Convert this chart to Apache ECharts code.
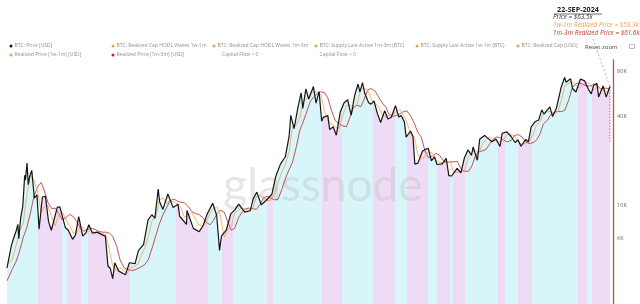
<!DOCTYPE html>
<html>
<head>
<meta charset="utf-8">
<script src="https://cdn.jsdelivr.net/npm/echarts@6/dist/echarts.min.js"></script>
<style>html,body{margin:0;padding:0;background:#fff}#c{width:640px;height:304px}</style>
</head>
<body>
<div id="c"></div>
<script>
// ---- DATA ----
const priceUsd = [
['2017-09-23',3780],['2017-10-01',4400],['2017-10-12',5400],['2017-10-21',6000],['2017-11-01',6750],['2017-11-08',7450],['2017-11-12',5950],['2017-11-20',8250],['2017-11-29',9900],['2017-12-07',16000],['2017-12-10',14800],['2017-12-17',19300],['2017-12-22',13800],['2017-12-28',15700],
['2018-01-06',17200],['2018-01-17',11200],['2018-01-28',11800],['2018-02-06',6900],['2018-02-20',11400],['2018-03-05',11500],['2018-03-18',7800],['2018-03-30',6800],['2018-04-06',6600],['2018-04-24',9700],['2018-05-05',9800],['2018-05-28',7100],['2018-06-10',6800],['2018-06-28',5900],['2018-07-10',6300],['2018-07-24',8400],['2018-08-10',6200],['2018-08-23',6500],['2018-09-05',7400],['2018-09-20',6500],['2018-10-10',6600],['2018-10-30',6350],['2018-11-14',6200],['2018-11-25',3900],['2018-12-05',3750],['2018-12-15',3200],['2018-12-24',4100],
['2019-01-10',3600],['2019-02-07',3400],['2019-02-24',4100],['2019-03-20',4050],['2019-04-03',4950],['2019-04-25',5450],['2019-05-14',8000],['2019-05-30',8650],['2019-06-12',8200],['2019-06-26',12900],['2019-07-02',10600],['2019-07-16',9400],['2019-08-06',11950],['2019-08-28',9700],['2019-09-18',10200],['2019-09-25',8450],['2019-10-24',7450],['2019-10-26',9250],['2019-11-22',7000],['2019-12-17',6650],
['2020-01-03',7350],['2020-01-19',8700],['2020-02-12',10350],['2020-02-29',8550],['2020-03-12',4970],['2020-03-20',6200],['2020-04-10',6850],['2020-04-29',8800],['2020-05-15',9300],['2020-06-01',10200],['2020-06-27',9000],['2020-07-20',9200],['2020-08-02',11100],['2020-08-17',12300],['2020-09-05',10100],['2020-09-24',10750],['2020-10-20',11900],['2020-11-05',15600],['2020-11-25',19000],['2020-12-01',18800],['2020-12-16',21300],
['2021-01-01',29400],['2021-01-08',40600],['2021-01-22',33000],['2021-02-08',46400],['2021-02-21',57500],['2021-02-28',45200],['2021-03-13',61200],['2021-03-25',52300],['2021-04-14',63500],['2021-04-25',49000],['2021-05-08',58800],['2021-05-19',37000],['2021-05-26',39300],['2021-06-14',40500],['2021-06-22',32500],['2021-07-07',34000],['2021-07-20',29800],['2021-08-06',42800],['2021-08-22',49300],['2021-09-06',51700],['2021-09-21',40700],['2021-10-06',55300],['2021-10-20',66000],['2021-10-28',58400],['2021-11-08',67500],['2021-11-18',56900],['2021-12-04',49300],['2021-12-14',48300],['2021-12-27',50700],
['2022-01-10',41800],['2022-01-24',36300],['2022-02-10',43600],['2022-02-24',38300],['2022-03-10',39400],['2022-03-28',47100],['2022-04-11',39500],['2022-04-21',40500],['2022-05-05',36500],['2022-05-12',28900],['2022-05-31',31800],['2022-06-10',29100],['2022-06-18',19000],['2022-07-01',19300],['2022-07-20',23200],['2022-07-30',23800],['2022-08-14',24300],['2022-08-27',20000],['2022-09-09',21300],['2022-09-20',18900],['2022-10-12',19100],['2022-10-29',20800],['2022-11-09',15900],['2022-11-21',15800],['2022-12-14',17800],['2022-12-30',16600],
['2023-01-14',20900],['2023-01-29',23700],['2023-02-13',21800],['2023-02-20',24800],['2023-03-10',20200],['2023-03-20',28000],['2023-04-10',29700],['2023-04-19',28800],['2023-05-11',26900],['2023-05-28',28100],['2023-06-14',25000],['2023-06-23',30700],['2023-07-13',31400],['2023-07-30',29300],['2023-08-17',26600],['2023-08-29',27700],['2023-09-11',25100],['2023-10-01',27900],['2023-10-12',26800],['2023-10-24',33900],['2023-11-09',36700],['2023-11-25',37700],['2023-12-08',44200],['2023-12-17',41400],
['2024-01-01',44200],['2024-01-11',46300],['2024-01-23',39800],['2024-02-08',45300],['2024-02-28',62500],['2024-03-05',63800],['2024-03-14',73100],['2024-03-20',67900],['2024-04-08',71600],['2024-04-17',61300],['2024-05-01',58300],['2024-05-20',71400],['2024-06-07',69300],['2024-06-24',60300],['2024-07-05',56700],['2024-07-15',64800],['2024-07-29',66800],['2024-08-05',54000],['2024-08-24',64100],['2024-09-06',53900],['2024-09-15',59200],['2024-09-22',63500]
];

// semi-monthly dates for the realized price series
const rpDates = ['2017-09-23'];
for (let y = 2017; y <= 2024; y++) {
  for (let m = (y === 2017 ? 10 : 1); m <= (y === 2024 ? 9 : 12); m++) {
    const mm = (m < 10 ? '0' : '') + m;
    rpDates.push(y + '-' + mm + '-01', y + '-' + mm + '-15');
  }
}
rpDates.push('2024-09-22');

const realized1w1m = [
4000,3900,4300,5400,6700,7600,11500,
16000,14800,12000,9000,9800,10000,8300,7300,8600,9000,8000,7300,6500,6500,7200,7000,6600,6800,6500,6600,6450,6400,5000,3900,
3600,3800,3600,3500,3800,3850,4000,4600,5200,6200,8000,8200,10800,11300,10300,10800,10500,10300,9600,8300,8600,9000,8100,7400,
7300,7600,8900,9600,9700,8600,6100,6800,7200,8900,9300,9600,9400,9300,9600,11400,11700,11200,10800,10800,12100,14300,16800,18700,
23000,34000,35000,38500,50000,52000,57000,58500,58000,56000,43000,37000,35500,34000,33000,40000,47000,48000,45000,48000,61000,62000,60000,52000,
49000,46500,40500,39500,40500,41000,43000,44500,40500,36500,30000,29300,22000,20500,21500,23000,22500,20200,19600,19400,19500,19800,16600,16800,
16900,17200,21500,23000,23600,22500,26000,28100,29000,27800,27000,26900,28000,30300,30000,29300,26400,26000,26200,27100,29800,34800,36900,41500,
42800,43200,42000,43000,52000,64500,67000,68000,64500,62000,66000,68200,65000,60000,63000,61000,59500,58000,58300
];
const realized1m3m = [
3100,3300,3700,4200,4900,6100,7000,
9000,11500,13500,14300,12500,10500,9500,9600,8800,8000,8300,8700,8400,7800,7000,6700,6900,7000,6900,6700,6600,6600,6500,6200,
5300,4300,3800,3700,3650,3650,3750,3850,4000,4300,5200,6200,7500,8600,9700,10800,11000,10700,10500,10400,9800,9100,8800,8700,
8300,7700,7400,7900,8800,9300,9000,7800,6800,7000,8300,9000,9500,9600,9500,9400,10200,11300,11500,11200,10900,11000,12800,15000,
17500,19500,25000,32000,36500,42000,50500,54000,57000,58500,57500,52500,43000,37500,35500,34500,34000,39000,46000,47500,46500,52000,60500,61500,
59000,54000,49000,46000,41000,40000,40500,41500,43000,43500,40000,36000,31000,29000,23000,21000,21500,22500,21800,20200,19600,19600,19700,19800,
17500,17000,17000,18500,21500,23000,23400,23800,26000,28000,29000,28600,27600,26800,27500,29800,30000,29000,26800,26200,26500,27500,30500,35500,
37500,41000,42500,43200,43000,44000,52000,62000,66500,67000,65500,64000,64000,66000,64000,61000,62000,61500,61600
];

// capital-flow regime bands: start dates and regime ('pos' = cyan, 'neg' = pink)
const bandStarts = ['2017-09-23','2018-02-01','2018-05-14','2018-06-04','2018-08-03','2018-09-01','2019-02-27','2019-09-10','2020-01-24','2020-03-23','2020-05-09','2020-09-30','2020-10-26','2021-05-21','2021-08-14','2021-12-24','2022-03-27','2022-05-17','2022-08-14','2022-09-21','2022-11-15','2022-11-28','2023-01-18','2023-06-07','2023-07-07','2023-08-31','2023-10-29','2024-05-11','2024-06-18','2024-07-10'];
const bandKinds  = ['pos','neg','pos','neg','pos','neg','pos','neg','pos','neg','pos','neg','pos','neg','pos','neg','pos','neg','pos','neg','pos','neg','pos','neg','pos','neg','pos','neg','pos','neg'];
const bandEnd = '2024-10-05';

const yTickValues = [6000, 10000, 40000, 80000];
const yTickLabels = ['6K', '10K', '40K', '80K'];

const legendRow1 = ['BTC: Price [USD]','BTC: Realized Cap HODL Waves 1w-1m','BTC: Realized Cap HODL Waves 1m-3m','BTC: Supply Last Active 1m-3m (BTC)','BTC: Supply Last Active 1w-1m (BTC)','BTC: Realized Cap [USD]'];
const legendRow2 = ['Realized Price (1w-1m) [USD]','Realized Price (1m-3m) [USD]','Capital Flow < 0','Capital Flow > 0'];

// ---- CHART ----
const COL_PRICE = '#151515', COL_RP1 = '#efa24e', COL_RP2 = '#b8282f';
const COL_POS = '#d8f6fa', COL_NEG = '#f0dbf6';
const FONT = 'Open Sans, Roboto, sans-serif';

const chart = echarts.init(document.getElementById('c'), null, {renderer: 'canvas'});
const ts = s => echarts.time.parse(s).getTime();

const pieces = bandStarts.map((s, i) => ({
  gte: ts(s),
  lt: ts(i + 1 < bandStarts.length ? bandStarts[i + 1] : bandEnd) + (i + 1 < bandStarts.length ? 0 : 1e10),
  color: bandKinds[i] === 'pos' ? COL_POS : COL_NEG
}));

const rp1 = rpDates.map((d, i) => [d, realized1w1m[i]]);
const rp2 = rpDates.map((d, i) => [d, realized1m3m[i]]);

const legendX = [11, 113, 214, 316, 417, 518];
const legendColors1 = [COL_PRICE, COL_RP1, COL_RP1, COL_RP1, COL_RP1, COL_RP1];
const LFONT = '5px ' + FONT, LCOL = '#8f8f8f';
const g = [];
legendRow1.forEach((t, i) => {
  g.push({type: 'circle', shape: {cx: legendX[i], cy: 46, r: 1.5}, style: {fill: legendColors1[i]}, silent: true});
  g.push({type: 'text', x: legendX[i] + 3.5, y: 46, style: {text: t, fill: LCOL, font: LFONT, verticalAlign: 'middle'}, silent: true});
});
[[0, COL_RP1], [1, '#c2264a']].forEach(([i, c]) => {
  g.push({type: 'circle', shape: {cx: legendX[i], cy: 55, r: 1.5}, style: {fill: c}, silent: true});
  g.push({type: 'text', x: legendX[i] + 3.5, y: 55, style: {text: legendRow2[i], fill: LCOL, font: LFONT, verticalAlign: 'middle'}, silent: true});
});
g.push({type: 'text', x: legendX[2] + 8, y: 55, style: {text: legendRow2[2], fill: LCOL, font: LFONT, verticalAlign: 'middle'}, silent: true});
g.push({type: 'text', x: legendX[3] + 3.5, y: 55, style: {text: legendRow2[3], fill: LCOL, font: LFONT, verticalAlign: 'middle'}, silent: true});

// watermark
g.push({type: 'text', x: 323, y: 186, z: 1, style: {text: 'glassnode', fill: 'rgba(195,195,195,0.42)', font: '46px Lato, ' + FONT, align: 'center', verticalAlign: 'middle'}, silent: true});

// annotation
g.push({type: 'text', x: 578, y: 10, style: {text: '22-SEP-2024', fill: '#222', font: 'bold 7.2px ' + FONT, align: 'center', verticalAlign: 'middle'}, silent: true});
g.push({type: 'line', shape: {x1: 554, y1: 14, x2: 602, y2: 14}, style: {stroke: '#333', lineWidth: 0.7}, silent: true});
g.push({type: 'text', x: 553, y: 17.5, style: {text: 'Price = $63.5k', fill: '#333', font: 'italic 6.4px ' + FONT, verticalAlign: 'middle'}, silent: true});
g.push({type: 'text', x: 553, y: 25.5, style: {text: '1w-1m Realized Price = $58.3k', fill: COL_RP1, font: 'italic 6.4px ' + FONT, verticalAlign: 'middle'}, silent: true});
g.push({type: 'text', x: 553, y: 33.5, style: {text: '1m-3m Realized Price = $61.6k', fill: '#c0392b', font: 'italic 6.4px ' + FONT, verticalAlign: 'middle'}, silent: true});
g.push({type: 'text', x: 585, y: 47, style: {text: 'Reset zoom', fill: '#444', font: '6px ' + FONT, verticalAlign: 'middle'}, silent: true});
g.push({type: 'rect', shape: {x: 629.5, y: 44.5, width: 5, height: 4}, style: {fill: 'none', stroke: '#999', lineWidth: 0.6}, silent: true});

const option = {
  animation: false,
  backgroundColor: '#fff',
  grid: {left: 7, right: 27, top: 60, bottom: 0, containLabel: false},
  xAxis: {
    type: 'time', min: '2017-09-23', max: bandEnd, show: false
  },
  yAxis: {
    type: 'log', logBase: 10, min: 2160, max: 95900, position: 'right',
    axisLine: {show: true, lineStyle: {color: '#c4475f', width: 1.3}},
    axisTick: {show: false}, axisLabel: {show: false}, splitLine: {show: false}
  },
  visualMap: {
    type: 'piecewise', show: false, dimension: 0, seriesIndex: 0,
    pieces: pieces
  },
  series: [
    {name: 'Capital Flow Regime', type: 'line', data: priceUsd, showSymbol: false, symbol: 'none',
     lineStyle: {width: 0, opacity: 0}, areaStyle: {opacity: 1}, z: 0, silent: true},
    {name: 'Realized Price (1m-3m) [USD]', type: 'line', data: rp2, showSymbol: false, symbol: 'none',
     lineStyle: {color: COL_RP2, width: 0.8}, itemStyle: {color: COL_RP2}, z: 3, silent: true},
    {name: 'Realized Price (1w-1m) [USD]', type: 'line', data: rp1, showSymbol: false, symbol: 'none',
     lineStyle: {color: COL_RP1, width: 0.8}, itemStyle: {color: COL_RP1}, z: 4, silent: true},
    {name: 'BTC: Price [USD]', type: 'line', data: priceUsd, showSymbol: false, symbol: 'none',
     lineStyle: {color: COL_PRICE, width: 1.2}, itemStyle: {color: COL_PRICE}, z: 5, silent: true}
  ],
  graphic: g
};
chart.setOption(option);

// y tick labels and pointer lines placed through the axis scales
const g2 = g.slice();
yTickValues.forEach((v, i) => {
  const y = chart.convertToPixel({yAxisIndex: 0}, v);
  g2.push({type: 'text', x: 617, y: y, style: {text: yTickLabels[i], fill: '#666', font: '5.6px ' + FONT, verticalAlign: 'middle'}, silent: true});
});
const last = priceUsd[priceUsd.length - 1];
const lp = chart.convertToPixel({xAxisIndex: 0, yAxisIndex: 0}, last);
g2.push({type: 'line', shape: {x1: 593, y1: 39, x2: lp[0], y2: lp[1]}, style: {stroke: '#888', lineWidth: 0.6, lineDash: [2, 2]}, silent: true});
g2.push({type: 'line', shape: {x1: lp[0], y1: lp[1], x2: lp[0], y2: lp[1] + 55}, style: {stroke: '#c4475f', lineWidth: 0.8, lineDash: [1.5, 1.5]}, silent: true});
chart.setOption({graphic: g2}, {replaceMerge: ['graphic']});
</script>
</body>
</html>
